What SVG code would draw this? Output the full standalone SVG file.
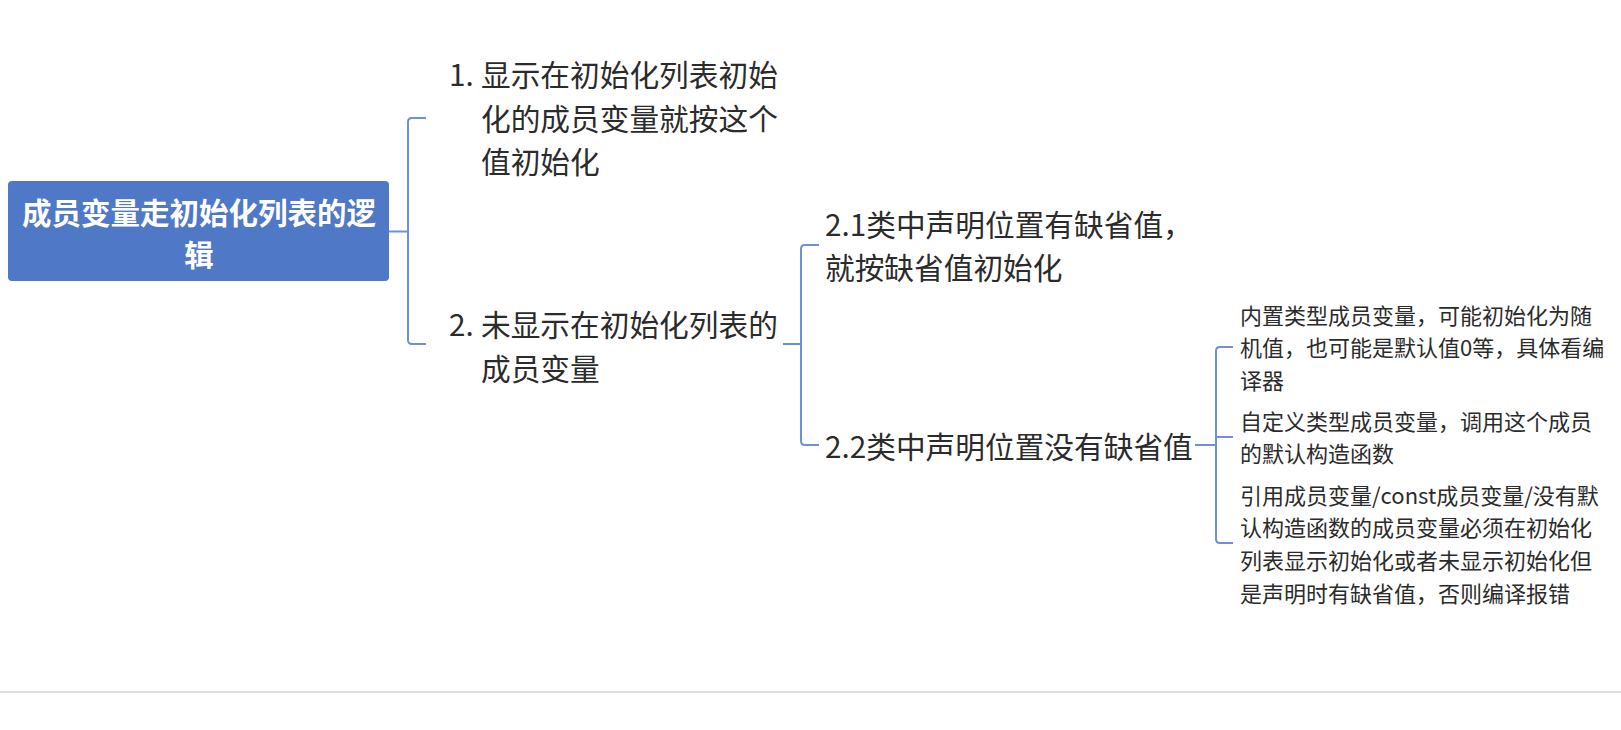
<svg xmlns="http://www.w3.org/2000/svg" width="1621" height="730" viewBox="0 0 1621 730">
<style>
.t{font-family:"Noto Sans CJK SC","Noto Sans",sans-serif;fill:#2b2b2b}
.l2{font-size:29.7px}
.l3{font-size:22px}
.root{font-family:"Noto Sans CJK SC","Noto Sans",sans-serif;font-size:29.5px;font-weight:bold;fill:#ffffff}
.c{fill:none;stroke:#6e8fda;stroke-width:2}
</style>
<rect x="0" y="0" width="1621" height="730" fill="#ffffff"/>
<g id="connectors">
<path class="c" d="M389,231.5 H408"/>
<path class="c" d="M426,118 H412 Q408,118 408,122 V340 Q408,344 412,344 H426"/>
<path class="c" d="M783,344 H801"/>
<path class="c" d="M819,245 H805 Q801,245 801,249 V441 Q801,445 805,445 H819"/>
<path class="c" d="M1195,445 H1216"/>
<path class="c" d="M1233,347 H1220 Q1216,347 1216,351 V539 Q1216,543 1220,543 H1233"/>
<path class="c" d="M1216,437 H1233"/>
</g>
<g id="root">
<rect x="8" y="181" width="381" height="100" rx="4" fill="#4f78c6"/>
<text class="root" text-anchor="middle"><tspan x="199" y="223.5">成员变量走初始化列表的逻</tspan><tspan x="199" y="265.5">辑</tspan></text>
</g>
<g id="n1">
<text class="t l2"><tspan x="449" y="86">1.</tspan><tspan x="481" y="86">显示在初始化列表初始</tspan><tspan x="481" y="129.5">化的成员变量就按这个</tspan><tspan x="481" y="173">值初始化</tspan></text>
</g>
<g id="n2">
<text class="t l2"><tspan x="449" y="336">2.</tspan><tspan x="481" y="336">未显示在初始化列表的</tspan><tspan x="481" y="379.5">成员变量</tspan></text>
</g>
<g id="n21">
<text class="t l2"><tspan x="825" y="236">2.1类中声明位置有缺省值，</tspan><tspan x="825" y="279">就按缺省值初始化</tspan></text>
</g>
<g id="n22">
<text class="t l2"><tspan x="825" y="457.5">2.2类中声明位置没有缺省值</tspan></text>
</g>
<g id="n221">
<text class="t l3"><tspan x="1240" y="323.5">内置类型成员变量，可能初始化为随</tspan><tspan x="1240" y="356">机值，也可能是默认值0等，具体看编</tspan><tspan x="1240" y="388.5">译器</tspan></text>
</g>
<g id="n222">
<text class="t l3"><tspan x="1240" y="430">自定义类型成员变量，调用这个成员</tspan><tspan x="1240" y="462">的默认构造函数</tspan></text>
</g>
<g id="n223">
<text class="t l3"><tspan x="1240" y="503.5">引用成员变量/const成员变量/没有默</tspan><tspan x="1240" y="536">认构造函数的成员变量必须在初始化</tspan><tspan x="1240" y="569">列表显示初始化或者未显示初始化但</tspan><tspan x="1240" y="602">是声明时有缺省值，否则编译报错</tspan></text>
</g>
<rect x="0" y="691" width="1621" height="2" fill="#dedede"/>
</svg>
